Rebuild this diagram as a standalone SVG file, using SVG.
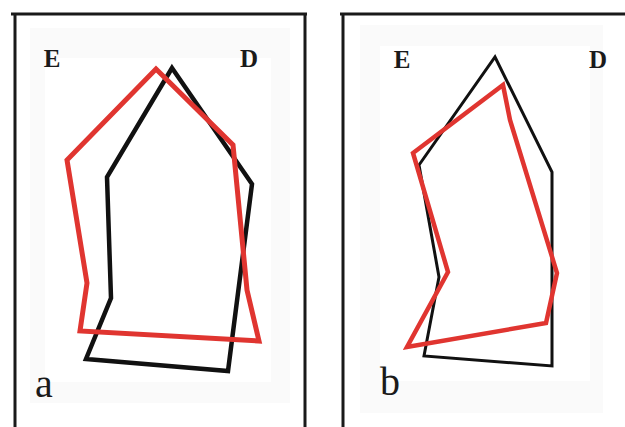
<svg xmlns="http://www.w3.org/2000/svg" width="625" height="427" viewBox="0 0 625 427">
<style>
.frame{fill:none;stroke:#1a1a1a;stroke-width:3}
.blk{fill:none;stroke:#111;stroke-linejoin:miter}
.red{fill:none;stroke:#e03530;stroke-linejoin:miter}
.lbl{font-family:"Liberation Serif",serif;font-weight:bold;font-size:25px;fill:#1a1a1a}
.tag{font-family:"Liberation Serif",serif;font-size:40px;fill:#1a1a1a}
</style>
<rect width="625" height="427" fill="#fff"/>
<g id="panel-a">
<rect x="30" y="28" width="260" height="375" fill="#fafafa"/>
<rect x="45" y="58" width="226" height="324" fill="#fff"/>
<path class="frame" d="M11 14H307M15 14V427M305 14V427"/>
<polygon class="blk" stroke-width="4.5" points="172,68 252,184 228,371 86,359 111,298 107,177"/>
<polygon class="red" stroke-width="5" points="156,69 233,145 247,290 259,341 80,331 87,283 67,160"/>
<text class="lbl" x="52" y="67" text-anchor="middle">E</text>
<text class="lbl" x="249" y="67" text-anchor="middle">D</text>
<text class="tag" x="44" y="397" text-anchor="middle">a</text>
</g>
<g id="panel-b">
<rect x="360" y="25" width="243" height="388" fill="#fafafa"/>
<rect x="380" y="46" width="210" height="335" fill="#fff"/>
<path class="frame" d="M340 14H625M343 14V427"/>
<polygon class="blk" stroke-width="3" points="495,57 552,172 552,366 424,356 439,277 419,165"/>
<polygon class="red" stroke-width="4.5" points="503,85 510,120 557,273 546,323 407,347 448,272 413,153"/>
<text class="lbl" x="402" y="68" text-anchor="middle">E</text>
<text class="lbl" x="598" y="68" text-anchor="middle">D</text>
<text class="tag" x="390" y="395" text-anchor="middle">b</text>
</g>
</svg>
